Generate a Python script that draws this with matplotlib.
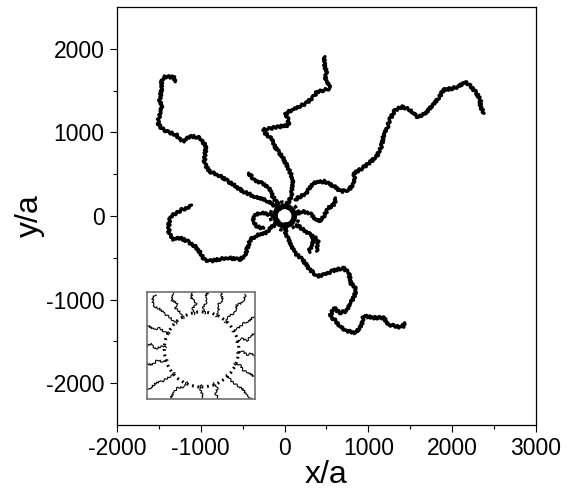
import numpy as np
import matplotlib.pyplot as plt
from matplotlib.patches import Circle

plt.rcParams['font.family'] = ['Liberation Sans', 'DejaVu Sans']
plt.rcParams['axes.unicode_minus'] = False

# arms of the walk (x/a, y/a)
arm_a = [(-53, 76), (-230, 195), (-363, 235), (-496, 294), (-584, 354), (-761, 473),
         (-894, 533), (-960, 632), (-938, 831), (-1004, 930), (-1071, 950), (-1137, 950),
         (-1204, 891), (-1248, 910), (-1292, 970), (-1403, 1010), (-1469, 1050),
         (-1513, 1109), (-1491, 1209), (-1469, 1308), (-1491, 1388), (-1469, 1507),
         (-1469, 1626), (-1425, 1666), (-1314, 1658), (-1314, 1606)]
arm_b = [(13, 115), (80, 235), (102, 433), (35, 592), (-31, 712), (-119, 831),
         (-142, 910), (-230, 990), (-252, 1030), (-164, 1050), (-53, 1070), (58, 1089),
         (35, 1169), (13, 1229), (124, 1288), (257, 1348), (345, 1427), (389, 1487),
         (478, 1507), (544, 1527), (522, 1586), (478, 1626), (500, 1706), (478, 1805),
         (469, 1905)]
arm_c = [(124, 195), (257, 274), (345, 394), (478, 414), (589, 354), (677, 294),
         (766, 314), (832, 394), (832, 513), (898, 553), (1009, 632), (1097, 712),
         (1142, 791), (1164, 871), (1186, 990), (1230, 1070), (1252, 1149), (1319, 1268),
         (1407, 1308), (1496, 1268), (1584, 1189), (1651, 1209), (1717, 1268),
         (1783, 1348), (1850, 1427), (1894, 1507), (2005, 1527), (2071, 1547),
         (2159, 1606), (2226, 1547), (2292, 1467), (2336, 1388), (2336, 1308), (2381, 1229)]
arm_d = [(13, -83), (13, -203), (80, -362), (124, -441), (212, -521), (301, -640),
         (389, -720), (478, -700), (566, -660), (699, -620), (766, -680), (788, -799),
         (854, -879), (832, -958), (788, -1038), (743, -1137), (655, -1157), (589, -1097),
         (544, -1197), (611, -1256), (655, -1316), (743, -1376), (854, -1396), (920, -1296),
         (943, -1197), (1053, -1217), (1186, -1217), (1230, -1296), (1319, -1316),
         (1407, -1336), (1429, -1276)]
arm_e = [(-53, -44), (-119, -103), (-230, -203), (-319, -223), (-407, -282), (-451, -402),
         (-473, -481), (-540, -521), (-673, -501), (-805, -521), (-894, -541), (-960, -521),
         (-1004, -441), (-1071, -362), (-1159, -302), (-1248, -262), (-1336, -282),
         (-1381, -203), (-1381, -83), (-1358, -4), (-1292, 36), (-1226, 76), (-1159, 95),
         (-1115, 135)]
arm_f = [(-429, 513), (-363, 433), (-274, 394), (-186, 334), (-142, 235), (-75, 135)]
arm_g = [(124, 36), (212, 56), (301, 36), (367, -44), (434, -64), (478, 16), (522, 95),
         (589, 135), (611, 215)]
arm_h = [(140, -104), (250, -180), (330, -240), (340, -300), (310, -380), (290, -430)]
arm_h2 = [(330, -240), (400, -290), (395, -360), (380, -420)]
arm_i = [(-100, 0), (-200, 20), (-300, 40), (-370, 0), (-380, -80), (-320, -130), (-250, -150)]
arms = [arm_a, arm_b, arm_c, arm_d, arm_e, arm_f, arm_g, arm_h, arm_h2, arm_i]

# inset chains, in units of the sphere radius
inset_chains = [
    [(-0.5, 0.87), (-0.6, 1.05), (-0.75, 1.15), (-0.7, 1.3), (-0.85, 1.4), (-0.8, 1.62)],
    [(-0.2, 0.98), (-0.25, 1.15), (-0.15, 1.3), (-0.3, 1.45), (-0.25, 1.62)],
    [(0.1, 1.0), (0.05, 1.2), (0.15, 1.35), (0.1, 1.5), (0.2, 1.62)],
    [(0.4, 0.92), (0.5, 1.1), (0.45, 1.25), (0.6, 1.4), (0.55, 1.62)],
    [(0.65, 0.76), (0.8, 0.95), (0.95, 1.05), (1.0, 1.25), (1.2, 1.35), (1.25, 1.55)],
    [(0.87, 0.5), (1.05, 0.6), (1.2, 0.75), (1.35, 0.8), (1.52, 0.95)],
    [(0.98, 0.2), (1.15, 0.3), (1.3, 0.25), (1.4, 0.4), (1.52, 0.45)],
    [(1.0, -0.1), (1.15, -0.05), (1.3, -0.15), (1.45, -0.1), (1.52, -0.2)],
    [(0.92, -0.4), (1.1, -0.45), (1.2, -0.6), (1.35, -0.65), (1.52, -0.8)],
    [(0.7, -0.7), (0.85, -0.9), (1.0, -1.0), (1.15, -1.1), (1.3, -1.3), (1.4, -1.4)],
    [(0.35, -0.94), (0.45, -1.1), (0.4, -1.25), (0.5, -1.4)],
    [(0.0, -1.0), (-0.05, -1.15), (0.05, -1.3), (0.0, -1.4)],
    [(-0.4, -0.92), (-0.5, -1.05), (-0.7, -1.1), (-0.8, -1.25), (-0.9, -1.4)],
    [(-0.75, -0.66), (-0.95, -0.8), (-1.1, -0.9), (-1.3, -0.95), (-1.45, -1.1), (-1.55, -1.15)],
    [(-0.95, -0.3), (-1.1, -0.35), (-1.25, -0.3), (-1.4, -0.45), (-1.55, -0.4)],
    [(-1.0, 0.05), (-1.15, 0.1), (-1.3, 0.0), (-1.45, 0.15), (-1.55, 0.1)],
    [(-0.9, 0.45), (-1.05, 0.5), (-1.2, 0.6), (-1.35, 0.55), (-1.55, 0.7)],
    [(-0.7, 0.72), (-0.9, 0.9), (-1.05, 1.0), (-1.2, 1.15), (-1.35, 1.2), (-1.4, 1.45), (-1.3, 1.55)],
]

fig = plt.figure(figsize=(5.79, 4.94), dpi=100)
ax = fig.add_axes([0.2021, 0.1397, 0.7236, 0.8461])

for arm in arms:
    xy = np.array(arm)
    ln, = ax.plot(xy[:, 0], xy[:, 1], color='black', lw=2.4, solid_joinstyle='round',
                  solid_capstyle='round')
    ln.set_sketch_params(scale=1.2, length=4, randomness=2)

ax.add_patch(Circle((0, 0), 115, fill=False, ec='black', lw=4))
ax.add_patch(Circle((0, 0), 170, fill=False, ec='black', lw=2.5, ls=(0, (1, 1.2))))
ax.add_patch(Circle((0, 0), 75, fc='white', ec='none', zorder=3))

ax.set_xlim(-2000, 3000)
ax.set_ylim(-2500, 2500)
ax.set_xticks([-2000, -1000, 0, 1000, 2000, 3000])
ax.set_yticks([-2000, -1000, 0, 1000, 2000])
ax.set_xticks(np.arange(-1500, 3000, 1000), minor=True)
ax.set_yticks(np.arange(-1500, 2000, 1000), minor=True)
ax.tick_params(which='major', direction='out', length=5, width=0.8, labelsize=16.5, pad=4)
ax.tick_params(which='minor', direction='out', length=3, width=0.8)
for s in ax.spines.values():
    s.set_linewidth(0.9)
ax.set_xlabel('x/a', fontsize=23, labelpad=0)
ax.set_ylabel('y/a', fontsize=23, labelpad=1)

# inset: close-up of the sphere
ins = fig.add_axes([0.2539, 0.1923, 0.1865, 0.2166])
for ch in inset_chains:
    xy = np.array(ch)
    ln, = ins.plot(xy[:, 0], xy[:, 1], color='black', lw=0.8)
    ln.set_sketch_params(scale=1.0, length=3, randomness=3)
ins.add_patch(Circle((0, 0), 1.06, fill=False, ec='black', lw=2.2, ls=(0, (0.6, 1.2))))
ins.add_patch(Circle((0, 0), 0.98, fc='white', ec='none', zorder=3))
ins.set_xlim(-1.55, 1.52)
ins.set_ylim(-1.40, 1.62)
ins.set_xticks([])
ins.set_yticks([])
for s in ins.spines.values():
    s.set_color('#707070')
    s.set_linewidth(1.2)

fig.savefig('out.png', dpi=100)
